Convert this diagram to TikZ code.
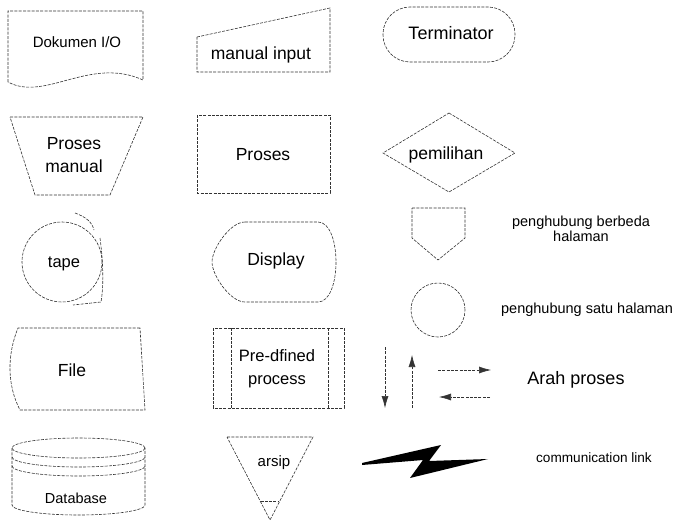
\documentclass[tikz,border=0pt]{standalone}
\usepackage{fontspec}
\setmainfont{Liberation Sans}
\usepackage{tikz}
\usetikzlibrary{arrows.meta,calc}

\begin{document}
\begin{tikzpicture}[x=1pt,y=-1pt,
        garis/.style={black!80, line width=0.6pt, dash pattern=on 3pt off 1.3pt},
        teks/.style={font=\fontsize{17.5}{23.5}\selectfont, align=center, inner sep=0pt},
        kecil/.style={font=\fontsize{14.5}{15.5}\selectfont, align=center, inner sep=0pt},
        arah/.style={garis, -{Latex[length=12pt,width=7pt]}}]
    \useasboundingbox (0,0) rectangle (679,522);

    % baris 1
    \draw[garis] (8,82) -- (8,11) -- (143,11) -- (143,80)
        .. controls (90,56) and (45,102) .. cycle;
    \node[teks, font=\fontsize{15}{18}\selectfont] (dokumen) at (77,42) {Dokumen I/O};
    \draw[garis] (197,37) -- (330,8) -- (330,72) -- (197,72) -- cycle;
    \node[teks] (input) at (261,55) {manual input};
    \draw[garis, rounded corners=27pt] (383,7) rectangle (515,62);
    \node[teks, font=\fontsize{18}{20}\selectfont] (terminator) at (451,33) {Terminator};

    % baris 2
    \draw[garis] (10,117) -- (143,117) -- (110,195) -- (35,195) -- cycle;
    \node[teks] (manual) at (74,155) {Proses\\manual};
    \draw[garis] (197,115) rectangle (330,193);
    \node[teks] (proses) at (263,155) {Proses};
    \draw[garis] (449,113) -- (515,153) -- (449,192) -- (383,153) -- cycle;
    \node[teks] (pemilihan) at (446,155) {pemilihan};

    % baris 3
    \draw[garis] (62,262) circle (40pt);
    \draw[garis] (75,213) .. controls (86,217) and (92,222) .. (94,230);
    \draw[garis] (100,238) .. controls (103,260) and (104,285) .. (101,302) -- (73,305);
    \node[teks, font=\fontsize{16.5}{18}\selectfont] (tape) at (64,264) {tape};
    \draw[garis] (245,222) -- (318,222) .. controls (342,222) and (342,302) .. (318,302)
        -- (245,302) .. controls (230,302) and (212,275) .. (212,262)
        .. controls (212,249) and (230,222) .. cycle;
    \node[teks] (display) at (276,261) {Display};
    \draw[garis] (412,208) -- (465,208) -- (465,238) -- (438,260) -- (412,238) -- cycle;
    \node[kecil] (berbeda) at (581,229) {penghubung berbeda\\halaman};
    \draw[garis] (438,310) circle (27pt);
    \node[kecil] (satu) at (587,310) {penghubung satu halaman};

    % baris 4
    \draw[garis] (140,328) -- (18,328) .. controls (7,355) and (7,385) .. (20,410)
        -- (145,410) -- cycle;
    \node[teks] (file) at (72,370) {File};
    \draw[garis] (213,328) rectangle (344,408);
    \draw[garis] (231,328) -- (231,408) (328,328) -- (328,408);
    \node[teks, font=\fontsize{16.5}{23}\selectfont] (predefined) at (277,368.5) {Pre-dfined\\process};
    \coordinate (turun1) at (385,347);
    \coordinate (turun2) at (385,408);
    \coordinate (naik1) at (412,408);
    \coordinate (naik2) at (412,355);
    \coordinate (kanan1) at (438,370);
    \coordinate (kanan2) at (491,370);
    \coordinate (kiri1) at (490,397);
    \coordinate (kiri2) at (439,397);
    \draw[arah] (turun1) -- (turun2);
    \draw[arah] (naik1) -- (naik2);
    \draw[arah] (kanan1) -- (kanan2);
    \draw[arah] (kiri1) -- (kiri2);
    \node[teks, font=\fontsize{18}{20}\selectfont] (arah) at (576,380) {Arah proses};

    % baris 5
    \draw[garis] (78.5,448) ellipse [x radius=66.5pt, y radius=10pt];
    \draw[garis] (12,457) arc [start angle=180, end angle=360, x radius=66.5pt, y radius=10pt];
    \draw[garis] (12,466) arc [start angle=180, end angle=360, x radius=66.5pt, y radius=10pt];
    \draw[garis] (12,448) -- (12,505) arc [start angle=180, end angle=360, x radius=66.5pt, y radius=10pt]
        -- (145,448);
    \node[teks, font=\fontsize{14.5}{16}\selectfont] (database) at (76,498) {Database};
    \coordinate (arsipA) at (227,437);
    \coordinate (arsipB) at (313,437);
    \coordinate (arsipC) at (270,520);
    \draw[garis] (arsipA) -- (arsipB) -- (arsipC) -- cycle;
    \draw[garis] ($(arsipA)!0.78!(arsipC)$) -- ($(arsipB)!0.78!(arsipC)$);
    \node[teks, font=\fontsize{15}{17}\selectfont] (arsip) at (274,463) {arsip};
    \fill[black] (362,463) -- (441,445) -- (429,461) -- (488,459) -- (410,478)
        -- (423,460) -- (362,465) -- cycle;
    \node[kecil, font=\fontsize{13.6}{15}\selectfont] (link) at (594,458) {communication link};
\end{tikzpicture}
\end{document}
